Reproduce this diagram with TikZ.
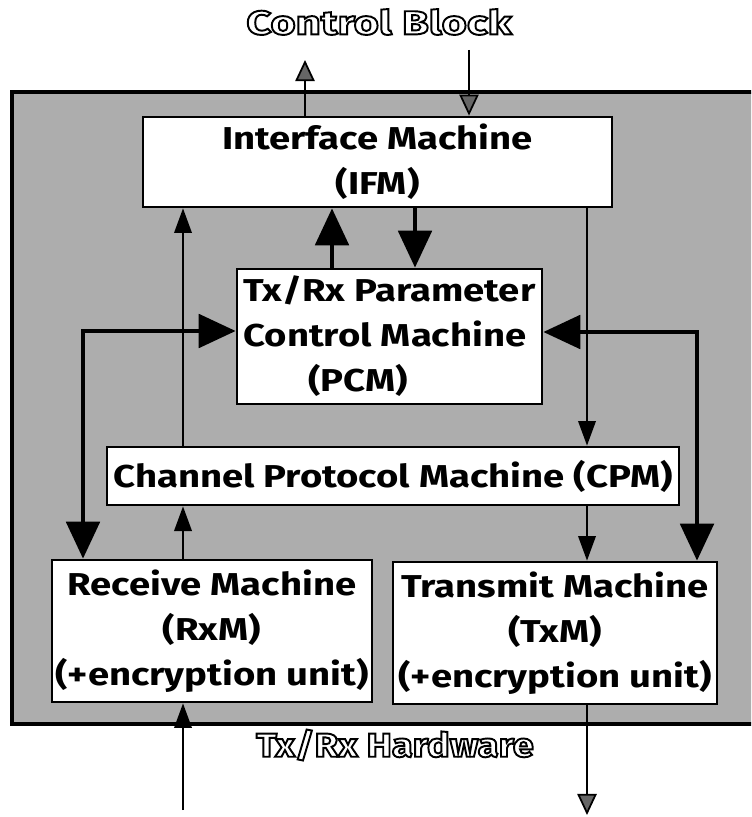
\documentclass[tikz,border=0pt]{standalone}
\usepackage{fontspec}
\setmainfont[FakeStretch=1.21]{Fira Sans}
\newfontfamily\outlinefont[FakeStretch=1.3]{Fira Sans}
\newfontfamily\hwfont[FakeStretch=1.14]{Fira Sans}
\usetikzlibrary{arrows.meta}
\newcommand{\hollow}[1]{\special{pdf:code 1 Tr 1.1 w}#1\special{pdf:code 0 Tr}}
\tikzset{>=Triangle,every node/.style={font=\fontsize{18}{25.6}\selectfont\bfseries},
  machine/.style={draw,line width=1.6pt,fill=white,inner sep=0pt,align=center},
  title/.style={font=\fontsize{19}{24}\selectfont\outlinefont\bfseries},
  sig/.style={line width=1pt,-{Triangle[length=14pt,width=10pt]}},
  bus/.style={line width=2.3pt,-{Triangle[length=21pt,width=19pt]}},
  dbus/.style={line width=2.3pt,{Triangle[length=21pt,width=19pt]}-{Triangle[length=21pt,width=19pt]}},
  ext/.style={line width=1pt,-{Triangle[length=12pt,width=11pt,fill=black!60]}}}

\begin{document}
\begin{tikzpicture}[x=0.02cm,y=-0.02cm]
\clip (0,0) rectangle (751,817);
\draw[line width=2.6pt,fill=black!32] (12,92) rectangle (780,724);
\node[title] (cb) at (379,22) {\hollow{Control Block}};
\node[title,font=\fontsize{19}{24}\selectfont\hwfont\bfseries] (hw) at (395,745) {\hollow{Tx/Rx Hardware}};
\node[machine,minimum width=9.38cm,minimum height=1.8cm] (ifm) at (377.5,162) {Interface Machine\\(IFM)};
\node[machine,minimum width=6.1cm,minimum height=2.7cm,align=left] (pcm) at (389.5,336.5) {Tx/Rx Parameter\\Control Machine\\\hspace*{1.3cm}(PCM)};
\node[machine,minimum width=11.44cm,minimum height=1.16cm] (cpm) at (393,476) {Channel Protocol Machine (CPM)};
\node[machine,minimum width=6.4cm,minimum height=2.84cm] (rxm) at (212,631) {Receive Machine\\(RxM)\\(+encryption unit)};
\node[machine,minimum width=6.48cm,minimum height=2.84cm] (txm) at (555,633) {Transmit Machine\\(TxM)\hspace*{0.5cm}\\(+encryption unit)};
\coordinate (cbOut) at (305,60);\coordinate (cbIn) at (469,50);
\coordinate (hwIn) at (183,810);\coordinate (hwOut) at (587,815);
\coordinate (xL) at (183,0);\coordinate (xR) at (587,0);
\coordinate (xPI) at (332,0);\coordinate (xIP) at (415,0);
\coordinate (rxc) at (83,331);\coordinate (txc) at (697,332);
\draw[ext] (ifm.north -| cbOut)--(cbOut);
\draw[ext] (cbIn)--(ifm.north -| cbIn);
\draw[sig] (cpm.north -| xL)--(ifm.south -| xL);
\draw[bus] (pcm.north -| xPI)--(ifm.south -| xPI);
\draw[bus] (ifm.south -| xIP)--(pcm.north -| xIP);
\draw[sig] (ifm.south -| xR)--(cpm.north -| xR);
\draw[dbus] (pcm.west |- rxc)--(rxc)--(rxm.north -| rxc);
\draw[dbus] (pcm.east |- txc)--(txc)--(txm.north -| txc);
\draw[sig] (rxm.north -| xL)--(cpm.south -| xL);
\draw[sig] (cpm.south -| xR)--(txm.north -| xR);
\draw[sig] (hwIn)--(rxm.south -| hwIn);
\draw[ext] (txm.south -| hwOut)--(hwOut);
\end{tikzpicture}
\end{document}
